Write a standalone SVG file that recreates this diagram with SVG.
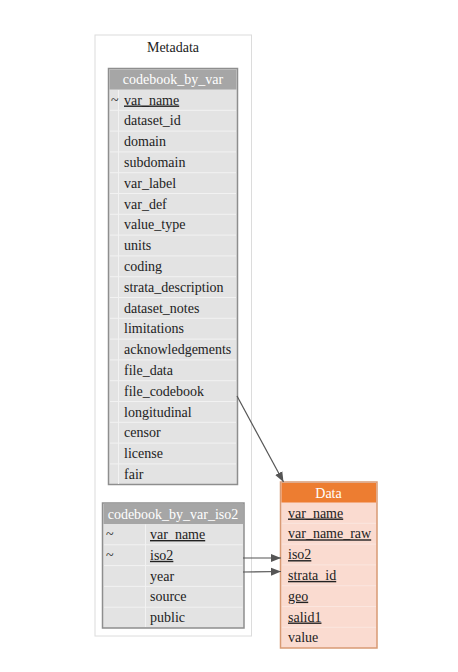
<svg xmlns="http://www.w3.org/2000/svg" width="458" height="672" viewBox="0 0 458 672">
<defs>
<style>
text{font-family:"Liberation Serif","Times New Roman",serif;font-size:14px;fill:#222}
.hd{fill:#fff;text-anchor:middle}
.u{text-decoration:underline}
.gbody{fill:#e3e3e3;stroke:#8e8e8e;stroke-width:1.5}
.ghead{fill:#a6a6a6}
.obody{fill:#fadbd0;stroke:#d89a74;stroke-width:1.5}
.ohead{fill:#ed7d31}
.sep{stroke:#f2f2f2;stroke-width:1}
.edge{stroke:#555;stroke-width:1.2;fill:none}
</style>
<marker id="ah" viewBox="0 0 10 10" refX="10" refY="5" markerWidth="10" markerHeight="10" markerUnits="userSpaceOnUse" orient="auto">
<path d="M0,1 L10,5 L0,9 Z" fill="#555"/>
</marker>
</defs>
<rect width="458" height="672" fill="#fff"/>
<g id="cluster_metadata">
<rect x="95" y="35" width="156.5" height="601" fill="none" stroke="#dcdcdc" stroke-width="1"/>
<text x="173" y="52" text-anchor="middle">Metadata</text>
</g>
<g id="codebook_by_var">
<rect class="gbody" x="108.5" y="68.5" width="129" height="416"/>
<rect class="ghead" x="109.5" y="69.5" width="127" height="20"/>
<text class="hd" x="173" y="84">codebook_by_var</text>
<g class="sep">
<line x1="110" y1="110.3" x2="236" y2="110.3"/><line x1="110" y1="131.1" x2="236" y2="131.1"/><line x1="110" y1="151.9" x2="236" y2="151.9"/><line x1="110" y1="172.7" x2="236" y2="172.7"/><line x1="110" y1="193.5" x2="236" y2="193.5"/><line x1="110" y1="214.3" x2="236" y2="214.3"/><line x1="110" y1="235.1" x2="236" y2="235.1"/><line x1="110" y1="255.9" x2="236" y2="255.9"/><line x1="110" y1="276.7" x2="236" y2="276.7"/><line x1="110" y1="297.5" x2="236" y2="297.5"/><line x1="110" y1="318.3" x2="236" y2="318.3"/><line x1="110" y1="339.1" x2="236" y2="339.1"/><line x1="110" y1="359.9" x2="236" y2="359.9"/><line x1="110" y1="380.7" x2="236" y2="380.7"/><line x1="110" y1="401.5" x2="236" y2="401.5"/><line x1="110" y1="422.3" x2="236" y2="422.3"/><line x1="110" y1="443.1" x2="236" y2="443.1"/><line x1="110" y1="463.9" x2="236" y2="463.9"/>
<line x1="118.5" y1="90" x2="118.5" y2="484"/>
</g>
<text x="111" y="104.5">~</text>
<text class="u" x="124" y="104.5">var_name</text>
<text x="124" y="125.3">dataset_id</text>
<text x="124" y="146.1">domain</text>
<text x="124" y="166.9">subdomain</text>
<text x="124" y="187.7">var_label</text>
<text x="124" y="208.5">var_def</text>
<text x="124" y="229.3">value_type</text>
<text x="124" y="250.1">units</text>
<text x="124" y="270.9">coding</text>
<text x="124" y="291.7">strata_description</text>
<text x="124" y="312.5">dataset_notes</text>
<text x="124" y="333.3">limitations</text>
<text x="124" y="354.1">acknowledgements</text>
<text x="124" y="374.9">file_data</text>
<text x="124" y="395.7">file_codebook</text>
<text x="124" y="416.5">longitudinal</text>
<text x="124" y="437.3">censor</text>
<text x="124" y="458.1">license</text>
<text x="124" y="478.9">fair</text>
</g>
<g id="codebook_by_var_iso2">
<rect class="gbody" x="102.5" y="503" width="141.5" height="125"/>
<rect class="ghead" x="103.5" y="504" width="139.5" height="20"/>
<text class="hd" x="173" y="518.5">codebook_by_var_iso2</text>
<g class="sep">
<line x1="104" y1="544.8" x2="242.5" y2="544.8"/><line x1="104" y1="565.6" x2="242.5" y2="565.6"/><line x1="104" y1="586.4" x2="242.5" y2="586.4"/><line x1="104" y1="607.2" x2="242.5" y2="607.2"/>
<line x1="145.5" y1="524.5" x2="145.5" y2="627"/>
</g>
<text x="106" y="539">~</text>
<text class="u" x="150" y="539">var_name</text>
<text x="106" y="559.8">~</text>
<text class="u" x="150" y="559.8">iso2</text>
<text x="150" y="580.6">year</text>
<text x="150" y="601.4">source</text>
<text x="150" y="622.2">public</text>
</g>
<g id="Data">
<rect class="obody" x="280.5" y="482" width="96.5" height="166"/>
<rect class="ohead" x="281.5" y="483" width="94.5" height="19.5"/>
<text class="hd" x="328.5" y="497.5">Data</text>
<g class="sep" style="stroke:#fbe6df">
<line x1="282" y1="523.3" x2="376" y2="523.3"/><line x1="282" y1="544.1" x2="376" y2="544.1"/><line x1="282" y1="564.9" x2="376" y2="564.9"/><line x1="282" y1="585.7" x2="376" y2="585.7"/><line x1="282" y1="606.5" x2="376" y2="606.5"/><line x1="282" y1="627.3" x2="376" y2="627.3"/>
</g>
<text class="u" x="288" y="517.5">var_name</text>
<text class="u" x="288" y="538.3">var_name_raw</text>
<text class="u" x="288" y="559.1">iso2</text>
<text class="u" x="288" y="579.9">strata_id</text>
<text class="u" x="288" y="600.7">geo</text>
<text class="u" x="288" y="621.5">salid1</text>
<text x="288" y="642.3">value</text>
</g>
<g id="edges">
<path class="edge" d="M237,396 L283.5,482" marker-end="url(#ah)"/>
<path class="edge" d="M243,558 L281,558" marker-end="url(#ah)"/>
<path class="edge" d="M243,572 L281,571.5" marker-end="url(#ah)"/>
</g>
</svg>
